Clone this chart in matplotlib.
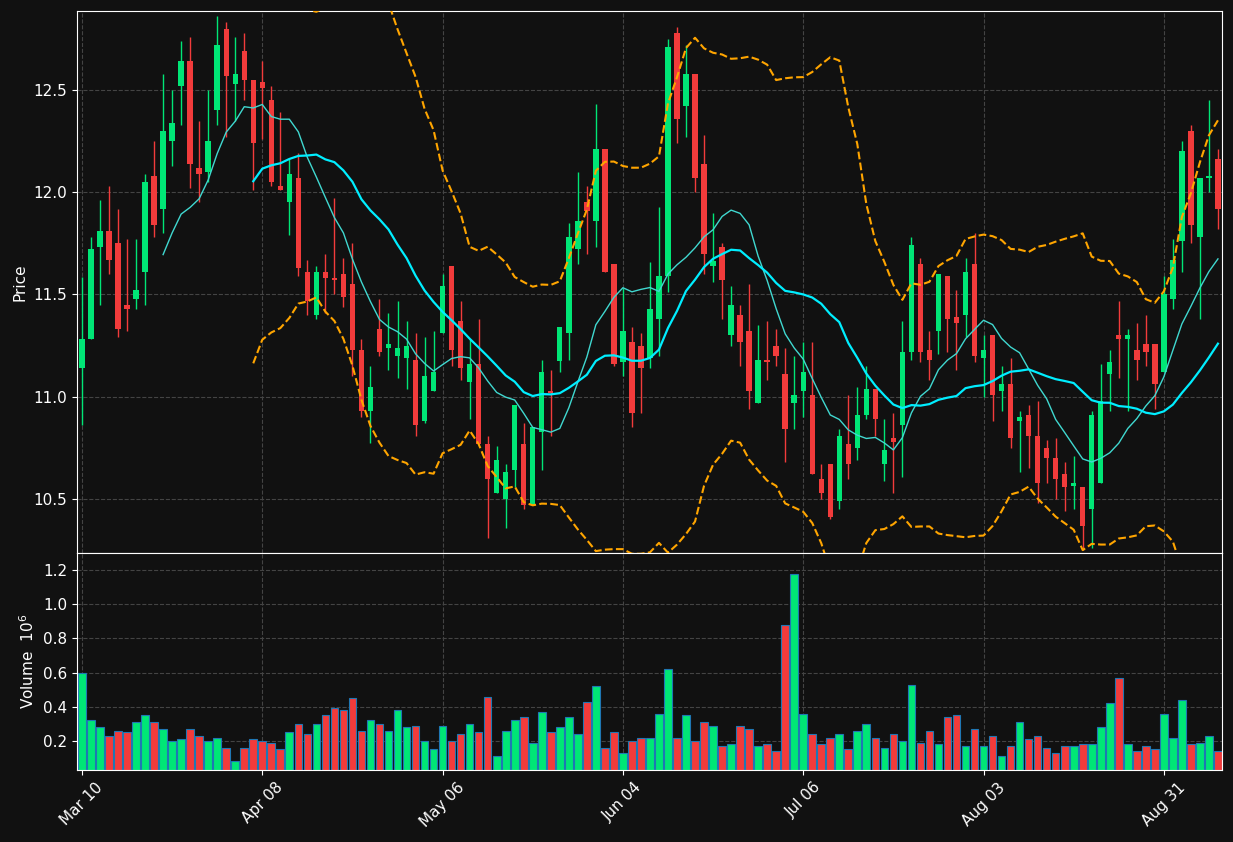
import numpy as np
import pandas as pd
import matplotlib
matplotlib.use("Agg")
import matplotlib.pyplot as plt

opens = [11.14,11.28,11.73,11.81,11.75,11.45,11.48,11.61,12.08,11.92,12.25,12.52,12.64,12.12,12.10,12.40,12.80,12.53,12.69,12.55,
         12.54,12.45,12.03,11.95,12.07,11.61,11.40,11.61,11.58,11.60,11.55,11.23,10.93,11.33,11.24,11.20,11.19,11.18,10.88,11.03,
         11.31,11.64,11.37,11.07,11.16,10.77,10.53,10.50,10.64,10.77,10.47,10.83,11.03,11.175,11.31,11.72,11.95,11.86,12.21,11.65,
         11.17,11.27,11.25,11.19,11.38,11.59,12.78,12.42,12.58,12.14,11.64,11.73,11.30,11.40,11.32,10.97,11.18,11.25,11.11,10.97,
         11.03,11.01,10.60,10.67,10.49,10.77,10.75,10.91,11.04,10.67,10.80,10.86,11.22,11.65,11.23,11.32,11.59,11.39,11.40,11.65,
         11.19,11.30,11.03,11.06,10.88,10.91,10.81,10.75,10.70,10.62,10.565,10.56,10.45,10.58,11.11,11.30,11.28,11.23,11.26,11.26,
         11.12,11.48,11.76,12.30,11.78,12.07,12.16]
highs = [11.585,11.78,11.96,12.03,11.92,11.77,11.77,12.09,12.25,12.58,12.50,12.74,12.76,12.35,12.50,12.86,12.83,12.76,12.78,12.55,
         12.64,12.52,12.39,12.16,12.19,11.67,11.64,11.70,11.97,11.68,11.75,11.28,11.15,11.48,11.41,11.47,11.37,11.31,11.29,11.32,
         11.60,11.64,11.47,11.28,11.38,10.81,10.76,10.67,10.96,10.87,10.85,11.18,11.13,11.34,11.85,12.10,12.03,12.43,12.21,11.65,
         11.53,11.34,11.31,11.66,11.93,12.75,12.81,12.72,12.58,12.28,11.90,11.75,11.54,11.45,11.55,11.35,11.37,11.33,11.24,11.20,
         11.27,11.27,10.67,10.67,10.84,11.01,11.05,11.15,11.04,10.89,10.92,11.37,11.78,11.68,11.32,11.60,11.59,11.52,11.68,11.80,
         11.30,11.30,11.15,11.19,10.93,10.96,10.98,10.79,10.80,10.68,10.71,10.56,10.93,11.16,11.23,11.47,11.33,11.36,11.40,11.26,
         11.59,11.77,12.25,12.33,12.07,12.45,12.21]
lows = [10.86,11.28,11.45,11.60,11.29,11.32,11.43,11.45,11.78,11.80,12.13,12.33,12.02,11.95,12.05,12.33,12.27,12.35,12.45,12.01,
        12.26,12.03,12.01,11.79,11.59,11.40,11.38,11.41,11.50,11.44,11.10,10.90,10.775,11.20,11.13,11.09,11.04,10.81,10.87,11.03,
        11.31,11.15,11.08,10.89,10.77,10.31,10.53,10.36,10.56,10.45,10.47,10.64,10.81,11.12,11.18,11.65,11.70,11.73,11.61,11.15,
        11.10,10.85,10.92,11.14,11.20,11.51,12.24,12.27,12.00,11.60,11.56,11.38,11.25,11.15,10.94,10.97,11.08,11.15,10.68,10.84,
        10.90,10.62,10.50,10.40,10.45,10.60,10.69,10.89,10.81,10.59,10.53,10.61,11.18,11.17,11.08,11.21,11.22,11.13,11.29,11.17,
        11.00,10.88,10.93,10.75,10.63,10.65,10.48,10.58,10.50,10.44,10.45,10.25,10.26,10.58,10.93,11.09,10.93,11.08,11.15,10.94,
        11.12,11.43,11.61,11.75,11.38,12.00,11.82]
closes = [11.28,11.72,11.81,11.67,11.33,11.43,11.52,12.05,11.84,12.30,12.34,12.64,12.14,12.09,12.25,12.72,12.57,12.58,12.55,12.24,
          12.51,12.05,12.01,12.09,11.63,11.47,11.61,11.58,11.57,11.49,11.23,10.93,11.05,11.22,11.26,11.24,11.25,10.86,11.10,11.12,
          11.54,11.23,11.14,11.16,10.77,10.60,10.69,10.63,10.96,10.47,10.85,11.12,11.02,11.34,11.78,11.86,11.91,12.21,11.61,11.16,
          11.32,10.92,11.14,11.43,11.59,12.71,12.36,12.58,12.07,11.70,11.665,11.57,11.45,11.27,11.03,11.18,11.17,11.20,10.84,11.01,
          11.12,10.62,10.53,10.41,10.81,10.67,10.91,11.04,10.89,10.74,10.78,11.22,11.74,11.22,11.18,11.60,11.38,11.36,11.61,11.20,
          11.23,11.01,11.06,10.80,10.90,10.81,10.58,10.70,10.60,10.56,10.58,10.37,10.91,10.98,11.17,11.28,11.30,11.18,11.22,11.06,
          11.50,11.67,12.20,11.84,12.07,12.08,11.92]
volumes = [0.60,0.32,0.28,0.23,0.26,0.25,0.31,0.35,0.31,0.27,0.20,0.21,0.27,0.23,0.20,0.22,0.16,0.08,0.16,0.21,
           0.20,0.19,0.15,0.25,0.30,0.24,0.30,0.35,0.39,0.38,0.45,0.26,0.32,0.30,0.26,0.38,0.28,0.29,0.20,0.15,
           0.29,0.20,0.24,0.30,0.25,0.46,0.11,0.26,0.32,0.34,0.19,0.37,0.25,0.28,0.34,0.24,0.43,0.52,0.16,0.25,
           0.13,0.20,0.22,0.22,0.36,0.62,0.22,0.35,0.20,0.31,0.29,0.17,0.18,0.29,0.27,0.17,0.18,0.14,0.88,1.18,
           0.36,0.24,0.18,0.22,0.24,0.15,0.26,0.30,0.22,0.16,0.24,0.20,0.53,0.19,0.26,0.18,0.34,0.35,0.17,0.27,
           0.17,0.23,0.11,0.17,0.31,0.21,0.23,0.16,0.13,0.17,0.17,0.18,0.18,0.28,0.42,0.57,0.18,0.14,0.17,0.15,
           0.36,0.22,0.44,0.18,0.19,0.23,0.14]
tick_labels = ["Mar 10", "Apr 08", "May 06", "Jun 04", "Jul 06", "Aug 03", "Aug 31"]
tick_pos = [0, 20, 40, 60, 80, 100, 120]

o = np.array(opens); h = np.array(highs); l = np.array(lows); c = np.array(closes); v = np.array(volumes)
n = len(c)
x = np.arange(n)
cs = pd.Series(c)
ma10 = cs.rolling(10).mean()
ma20 = cs.rolling(20).mean()
sd20 = cs.rolling(20).std(ddof=0)
upper = ma20 + 2 * sd20
lower = ma20 - 2 * sd20

BG = "#111111"
UP = "#00e676"
DN = "#f23b3b"
up = c >= o
cols = np.where(up, UP, DN)

fig = plt.figure(figsize=(12.33, 8.42), dpi=100, facecolor=BG)
W, H = 1233, 842
axp = fig.add_axes([77 / W, (H - 553) / H, 1145 / W, 542 / H])
axv = fig.add_axes([77 / W, (H - 770) / H, 1145 / W, 217 / H], sharex=axp)

for ax in (axp, axv):
    ax.set_facecolor(BG)
    for s in ax.spines.values():
        s.set_color("white")
    ax.tick_params(colors="white", labelsize=11)
    ax.grid(True, color="#444444", linestyle="--", linewidth=0.8)
    ax.set_axisbelow(True)

axp.vlines(x, l, h, colors=cols, linewidth=1, zorder=2)
body_lo = np.minimum(o, c)
body_h = np.maximum(np.abs(c - o), 0.006)
axp.bar(x, body_h, bottom=body_lo, width=0.6, color=cols, linewidth=0, zorder=3)
axp.plot(x, ma10, color="#40d8d0", linewidth=1, zorder=4)
axp.plot(x, ma20, color="#00eeff", linewidth=1.6, zorder=4)
axp.plot(x, upper, color="orange", linestyle="--", linewidth=1.5, zorder=4)
axp.plot(x, lower, color="orange", linestyle="--", linewidth=1.5, zorder=4)
axp.set_ylim(10.236, 12.886)
axp.set_yticks([10.5, 11.0, 11.5, 12.0, 12.5])
axp.set_ylabel("Price", color="white", fontsize=11)
axp.tick_params(axis="x", labelbottom=False)

axv.bar(x, v, width=0.85, color=cols, edgecolor="#1f77b4", linewidth=0.8)
axv.set_ylim(0.03, 1.30)
axv.set_yticks([0.2, 0.4, 0.6, 0.8, 1.0, 1.2])
axv.set_ylabel("Volume  $10^6$", color="white", fontsize=11)
axv.set_xlim(-0.55, 126.45)
axv.set_xticks(tick_pos)
axv.set_xticklabels(tick_labels, rotation=45, ha="center")

fig.savefig("out.png", dpi=100, facecolor=BG)
